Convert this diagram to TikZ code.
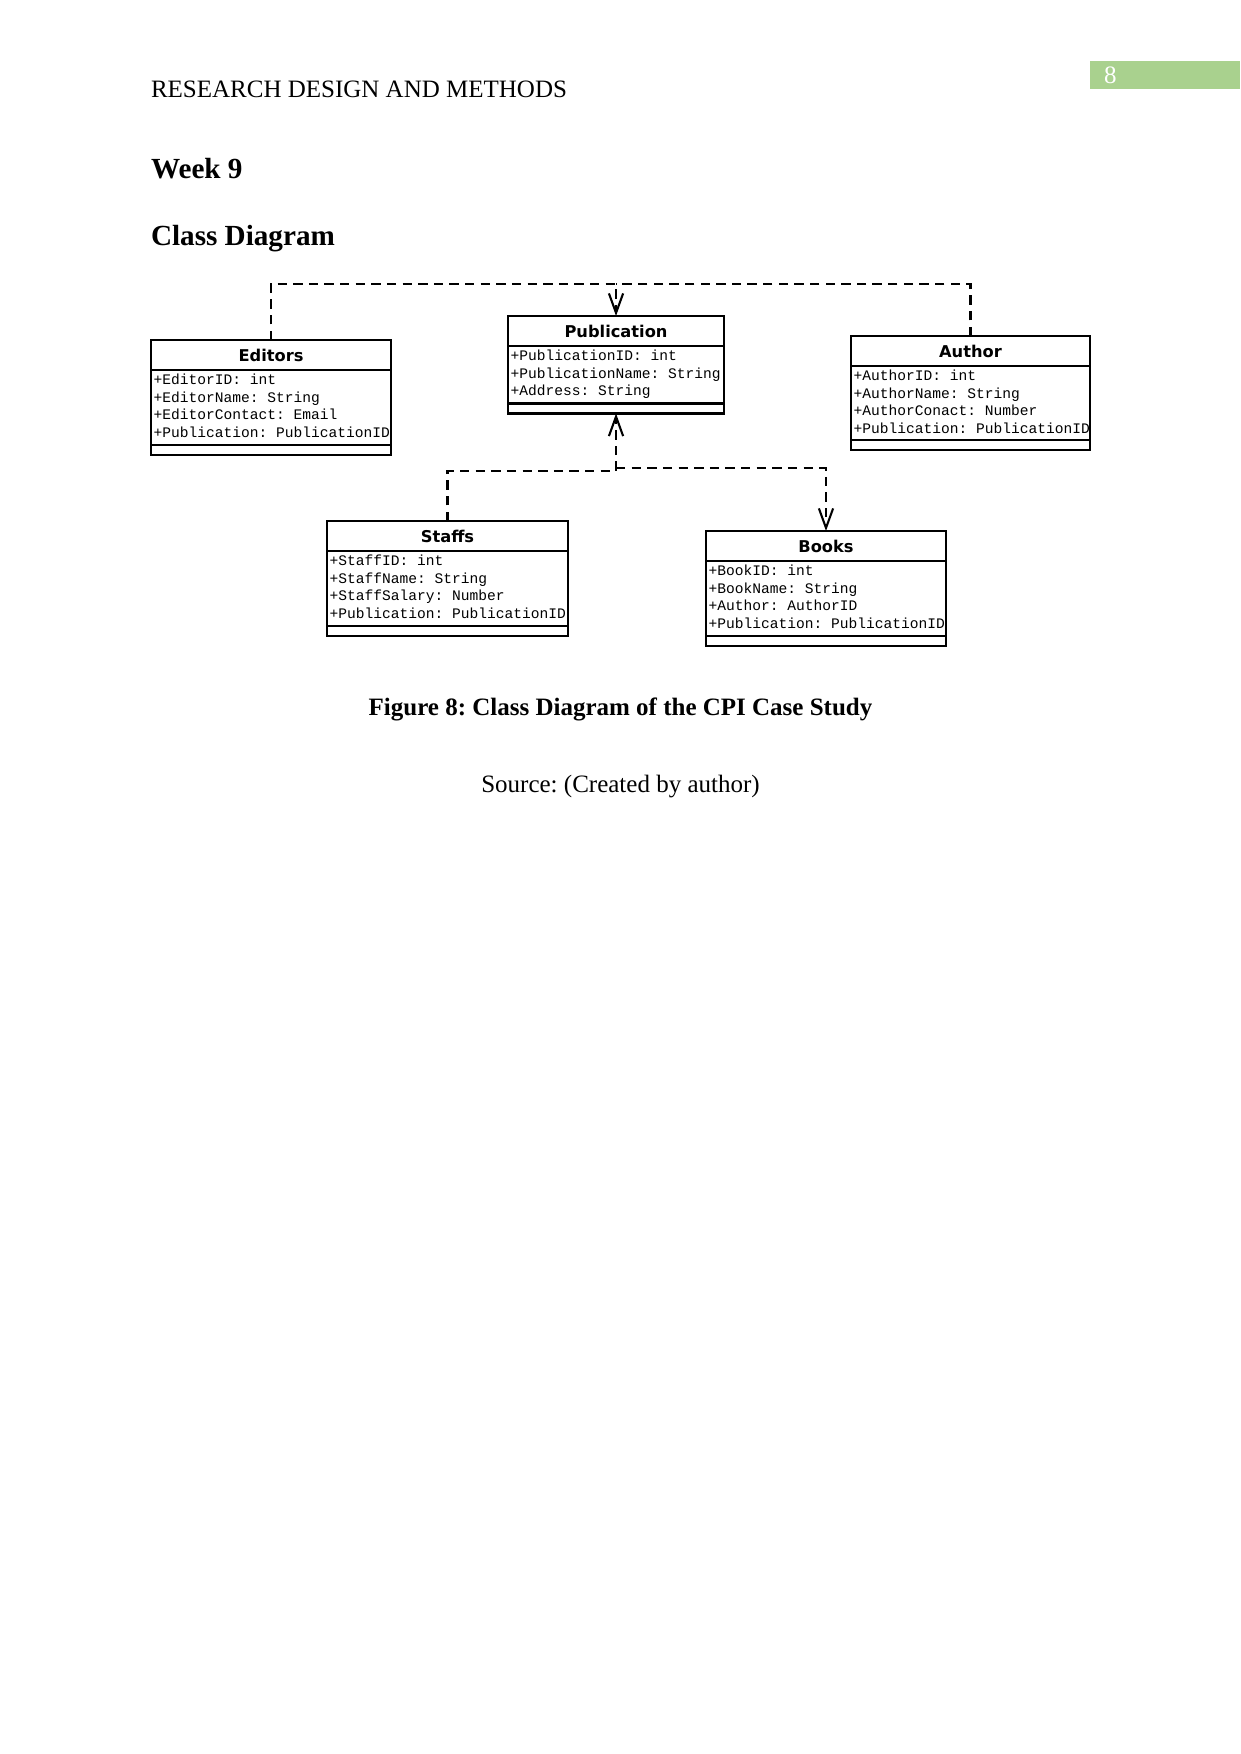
\documentclass[tikz,border=0pt]{standalone}
\usepackage{fontspec}
\setmainfont{Liberation Serif}
\setmonofont{Liberation Mono}
\newfontfamily\umlfont{DejaVu Sans}
\usetikzlibrary{arrows.meta,positioning}
\definecolor{pagegreen}{HTML}{A9D18E}
\frenchspacing

\begin{document}
\begin{tikzpicture}[
  x=0.48pt, y=-0.48pt,
  every node/.style={outer sep=0pt},
  txt/.style={anchor=base west,inner sep=0pt,font=\fontsize{12}{14.4}\selectfont},
  head/.style={anchor=base west,inner sep=0pt,font=\fontsize{14}{16.8}\selectfont\bfseries},
  capt/.style={anchor=base,inner sep=0pt,font=\fontsize{12}{14.4}\selectfont\bfseries},
  cls/.style={draw,line width=1pt,minimum height=14.6pt,inner sep=0pt,anchor=north west,font=\umlfont\bfseries\fontsize{7.8}{9}\selectfont},
  sect/.style={draw,line width=1pt,inner sep=0pt},
  attr/.style={anchor=north west,inner xsep=1.2pt,inner ysep=1.8pt,align=left,font=\ttfamily\fontsize{7}{8.4}\selectfont},
  dep/.style={-{Straight Barb[length=3.3mm,width=2.4mm]},line width=1pt,dash pattern=on 4.5pt off 3pt},
  depl/.style={line width=1pt,dash pattern=on 4.5pt off 3pt},
]
\path[use as bounding box,fill=white] (0,0) rectangle (1241,1754);

% page header
\node[fill=pagegreen,minimum width=72pt,minimum height=13.6pt,inner sep=0pt,anchor=north west] (pgbox) at (1090,61) {};
\node[anchor=west,inner sep=0pt,text=white,font=\fontsize{12}{14}\selectfont] (pgno) at (1104,75) {8};
\node[txt] (title) at (151,97) {RESEARCH DESIGN AND METHODS};
\node[head] (week) at (151,178) {Week 9};
\node[head] (sub) at (151,245) {Class Diagram};

% classes
\node[cls,minimum width=115.2pt] (edt) at (151,340) {Editors};
\node[sect,minimum width=115.2pt,minimum height=36pt,below=0pt of edt] (edtA) {};
\node[sect,minimum width=115.2pt,minimum height=4.4pt,below=0pt of edtA] (edtO) {};
\node[attr] at (edtA.north west) {+EditorID: int\\+EditorName: String\\+EditorContact: Email\\+Publication: PublicationID};

\node[cls,minimum width=103.7pt] (pub) at (508,316) {Publication};
\node[sect,minimum width=103.7pt,minimum height=27.4pt,below=0pt of pub] (pubA) {};
\node[sect,minimum width=103.7pt,minimum height=4.8pt,below=0pt of pubA] (pubO) {};
\node[attr] at (pubA.north west) {+PublicationID: int\\+PublicationName: String\\+Address: String};

\node[cls,minimum width=114.7pt] (ath) at (851,336) {Author};
\node[sect,minimum width=114.7pt,minimum height=35.5pt,below=0pt of ath] (athA) {};
\node[sect,minimum width=114.7pt,minimum height=4.4pt,below=0pt of athA] (athO) {};
\node[attr] at (athA.north west) {+AuthorID: int\\+AuthorName: String\\+AuthorConact: Number\\+Publication: PublicationID};

\node[cls,minimum width=115.7pt] (stf) at (327,521) {Staffs};
\node[sect,minimum width=115.7pt,minimum height=36pt,below=0pt of stf] (stfA) {};
\node[sect,minimum width=115.7pt,minimum height=4.4pt,below=0pt of stfA] (stfO) {};
\node[attr] at (stfA.north west) {+StaffID: int\\+StaffName: String\\+StaffSalary: Number\\+Publication: PublicationID};

\node[cls,minimum width=115.2pt] (bks) at (706,531) {Books};
\node[sect,minimum width=115.2pt,minimum height=36pt,below=0pt of bks] (bksA) {};
\node[sect,minimum width=115.2pt,minimum height=4.4pt,below=0pt of bksA] (bksO) {};
\node[attr] at (bksA.north west) {+BookID: int\\+BookName: String\\+Author: AuthorID\\+Publication: PublicationID};

% dependencies
\coordinate (hub) at (pub.north |- 0,284);
\coordinate (hubS) at (pubO.south |- 0,471);
\coordinate (hubB) at (pubO.south |- 0,468);
\draw[dep] (edt.north) |- (hub) -- (pub.north);
\draw[depl] (ath.north) |- (hub);
\draw[dep] (stf.north) |- (hubS) -- (pubO.south);
\draw[dep] (hubB) -| (bks.north);

% caption
\node[capt] (cap) at (620.5,715) {Figure 8: Class Diagram of the CPI Case Study};
\node[txt,anchor=base] (src) at (620.5,792) {Source: (Created by author)};
\end{tikzpicture}
\end{document}
